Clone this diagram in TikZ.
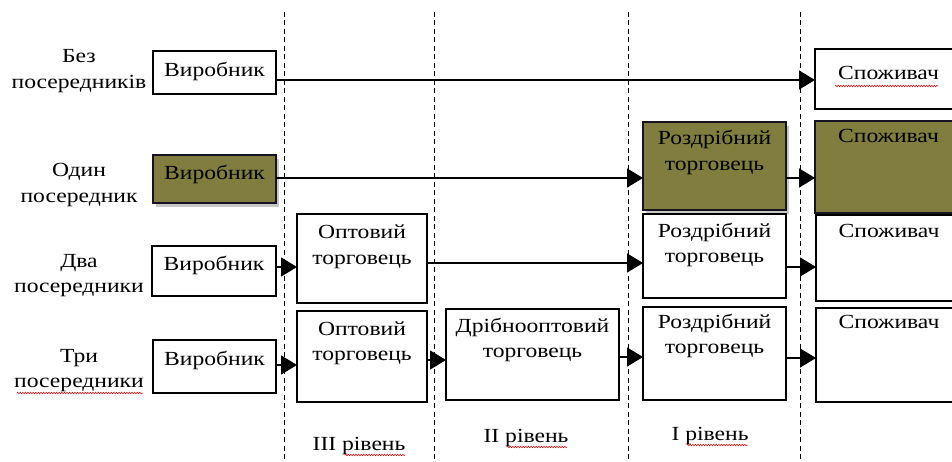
\documentclass[tikz,border=0pt]{standalone}
\usepackage{fontspec}
\setmainfont[FakeStretch=1.18]{Liberation Serif}
\usetikzlibrary{arrows.meta,shadows,decorations.pathmorphing}
\definecolor{olivefill}{RGB}{128,125,62}
\definecolor{olivedraw}{RGB}{20,20,35}
% #1 options, #2 name, #3 x1, #4 y1, #5 x2, #6 y2, #7 baseline offset, #8 text
\newcommand\bx[8][]{%
  \node[boxst,#1] (#2) at (#3,#4)
    {\parbox[t][\dimexpr#6pt-#4pt\relax][t]{\dimexpr#5pt-#3pt\relax}{\centering\rule{0pt}{#7pt}#8}};}
\tikzset{
  boxst/.style={draw, line width=2pt, inner sep=0pt, outer sep=0pt, anchor=north west, fill=white},
  olivebox/.style={fill=olivefill, draw=olivedraw,
    drop shadow={shadow xshift=3pt, shadow yshift=-4pt, opacity=0.45}},
  arr/.style={line width=1.6pt, -{Triangle[length=16pt,width=19pt]}},
  lbl/.style={inner sep=0pt, anchor=base},
  dashv/.style={line width=0.9pt, dash pattern=on 5pt off 3.5pt},
  squig/.style={red!85!black, line width=0.5pt, decorate,
    decoration={zigzag, segment length=2.6pt, amplitude=0.8pt}}
}
\begin{document}
\begin{tikzpicture}[x=1pt, y=-1pt, font=\fontsize{20}{25.5}\selectfont]
\useasboundingbox (0,0) rectangle (952,462);
\clip (0,0) rectangle (952,462);
% level separators
\draw[dashv] (284,12) -- (284,462);
\draw[dashv] (434,12) -- (434,462);
\draw[dashv] (628,12) -- (628,462);
\draw[dashv] (800,12) -- (800,462);
% left labels
\node[lbl] (l1) at (79,63)  {\parbox[t]{160pt}{\centering Без\\посередників}};
\node[lbl] (l2) at (79,177) {\parbox[t]{160pt}{\centering Один\\посередник}};
\node[lbl] (l3) at (79,267) {\parbox[t]{160pt}{\centering Два\\посередники}};
\node[lbl] (l4) at (79,362) {\parbox[t]{160pt}{\centering Три\\посередники}};
% row 1
\bx{v1}{153}{51}{276}{94}{26}{Виробник}
\bx{s1}{815}{49}{962}{109}{31}{Споживач}
% row 2
\bx[olivebox]{v2}{153}{155}{276}{203}{25}{Виробник}
\bx[olivebox]{r2}{643}{122}{786}{210}{23}{Роздрібний\\торговець}
\bx[olivebox]{s2}{815}{121}{962}{213}{22}{Споживач}
% row 3
\bx{v3}{152}{246}{276}{296}{24}{Виробник}
\bx{o3}{297}{214}{427}{303}{25}{Оптовий\\торговець}
\bx{r3}{643}{214}{786}{298}{23}{Роздрібний\\торговець}
\bx{s3}{816}{215}{962}{301}{23}{Споживач}
% row 4
\bx{v4}{153}{340}{276}{393}{25}{Виробник}
\bx{o4}{297}{311}{427}{402}{24}{Оптовий\\торговець}
\bx{d4}{446}{309}{619}{400}{23}{Дрібнооптовий\\торговець}
\bx{r4}{643}{307}{786}{400}{21}{Роздрібний\\торговець}
\bx{s4}{816}{308}{962}{402}{20}{Споживач}
% level labels
\node[lbl] (lv3) at (359,450) {III рівень};
\node[lbl] (lv2) at (526,442) {II рівень};
\node[lbl] (lv1) at (710,440) {I рівень};
% arrows
\draw[arr] (v1.east |- 0,80) -- (s1.west |- 0,80);
\draw[arr] (v2.east |- 0,178) -- (r2.west |- 0,178);
\draw[arr] (r2.east |- 0,178) -- (s2.west |- 0,178);
\draw[arr] (v3.east |- 0,267) -- (o3.west |- 0,267);
\draw[arr] (o3.east |- 0,263) -- (r3.west |- 0,263);
\draw[arr] (r3.east |- 0,267) -- (s3.west |- 0,267);
\draw[arr] (v4.east |- 0,365) -- (o4.west |- 0,365);
\draw[arr] (o4.east |- 0,360) -- (d4.west |- 0,360);
\draw[arr] (d4.east |- 0,357) -- (r4.west |- 0,357);
\draw[arr] (r4.east |- 0,358) -- (s4.west |- 0,358);
% spell-check underlines
\draw[squig] (835,86) -- (938,86);
\draw[squig] (17,393) -- (143,393);
\draw[squig] (345,455) -- (405,455);
\draw[squig] (507,447) -- (567,447);
\draw[squig] (687,445) -- (748,445);
\end{tikzpicture}
\end{document}
